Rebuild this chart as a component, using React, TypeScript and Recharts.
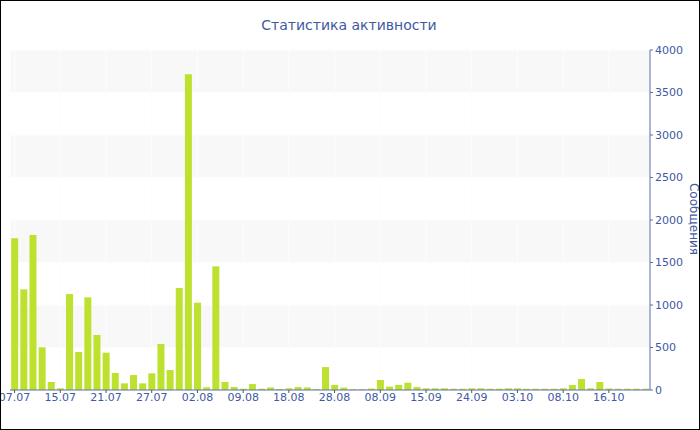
import { Bar, BarChart, CartesianGrid, XAxis, YAxis } from 'recharts';

const days = [
  '07.07', '08.07', '10.07', '12.07', '13.07', '15.07', '16.07', '17.07', '18.07', '19.07',
  '21.07', '22.07', '23.07', '24.07', '25.07', '27.07', '28.07', '29.07', '30.07', '31.07',
  '02.08', '03.08', '04.08', '06.08', '07.08', '09.08', '10.08', '12.08', '14.08', '16.08',
  '18.08', '20.08', '22.08', '24.08', '26.08', '28.08', '30.08', '01.09', '03.09', '05.09',
  '08.09', '09.09', '11.09', '12.09', '13.09', '15.09', '17.09', '19.09', '21.09', '22.09',
  '24.09', '26.09', '28.09', '30.09', '01.10', '03.10', '04.10', '05.10', '06.10', '07.10',
  '08.10', '10.10', '12.10', '13.10', '14.10', '16.10', '17.10', '19.10', '21.10', '22.10',
];

const messages = [
  1785, 1184, 1824, 502, 94, 20, 1129, 447, 1090, 647,
  439, 200, 78, 176, 78, 196, 541, 235, 1200, 3714,
  1027, 32, 1455, 94, 35, 15, 70, 15, 30, 12,
  20, 35, 30, 10, 270, 60, 28, 10, 10, 17,
  118, 40, 60, 86, 35, 20, 20, 20, 15, 15,
  20, 20, 15, 15, 20, 20, 15, 15, 15, 15,
  20, 59, 129, 20, 94, 18, 15, 15, 15, 15,
];

const majorTicks = [0, 500, 1000, 1500, 2000, 2500, 3000, 3500, 4000];
const minorTicks = [250, 750, 1250, 1750, 2250, 2750, 3250, 3750];

const data = days.map((day, i) => ({ day, value: messages[i] }));

const BLUE = '#4159a3';
const AXIS = '#5a6fb0';
const FONT = '"DejaVu Sans", Verdana, sans-serif';

export default function App() {
  return (
    <div
      style={{
        position: 'absolute',
        left: 0,
        top: 0,
        width: 700,
        height: 430,
        background: '#fff',
        fontFamily: FONT,
        overflow: 'hidden',
      }}
    >
      <div
        style={{
          position: 'absolute',
          left: 0,
          top: 16,
          width: 698,
          textAlign: 'center',
          fontSize: 14,
          lineHeight: '18px',
          color: BLUE,
        }}
      >
        Статистика активности
      </div>
      <BarChart
        width={700}
        height={430}
        data={data}
        margin={{ top: 50, right: 0, left: 10, bottom: 10 }}
        barCategoryGap="13%"
      >
        <CartesianGrid
          horizontalFill={['#f8f8f8', '#ffffff']}
          stroke="#fdfdfd"
        />
        <XAxis
          dataKey="day"
          interval={4}
          height={30}
          tickSize={3}
          tickMargin={0}
          stroke={AXIS}
          tickLine={{ stroke: '#555' }}
          tick={{ fill: BLUE, fontSize: 11, fontFamily: FONT }}
        />
        <YAxis
          yAxisId="minor"
          orientation="right"
          domain={[0, 4000]}
          ticks={minorTicks}
          width={0}
          mirror
          axisLine={false}
          tick={false}
          tickSize={3}
          tickLine={{ stroke: AXIS }}
        />
        <YAxis
          orientation="right"
          domain={[0, 4000]}
          ticks={majorTicks}
          width={50}
          tickSize={3}
          tickMargin={2}
          stroke={AXIS}
          tick={{ fill: BLUE, fontSize: 11, fontFamily: FONT, textAnchor: 'start' }}
        />
        <Bar dataKey="value" fill="#bde12f" isAnimationActive={false} />
      </BarChart>
      <div
        style={{
          position: 'absolute',
          left: 694,
          top: 219,
          transform: 'translate(-50%, -50%) rotate(90deg)',
          fontSize: 12,
          lineHeight: '14px',
          color: BLUE,
          whiteSpace: 'nowrap',
        }}
      >
        Сообщения
      </div>
      <div
        style={{
          position: 'absolute',
          inset: 0,
          border: '1px solid #000',
          pointerEvents: 'none',
        }}
      />
    </div>
  );
}
